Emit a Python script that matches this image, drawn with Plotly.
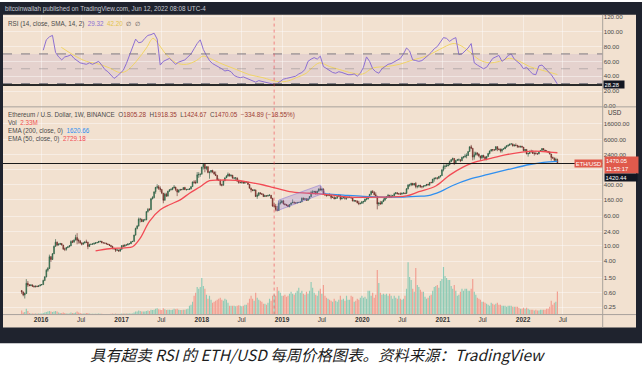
import plotly.graph_objects as go
import pandas as pd

W, H = 642, 369
def px(x): return x / W
def py(y): return 1 - y / H

FONT = "Liberation Sans, Arial, sans-serif"

# ---------------- weekly ETH/USD candles (week starting Monday) ----------------
first_open = 0.68
close_2015 = [0.62,0.52,0.57,1.05,0.95,0.92,0.95,0.88,0.85,0.88,0.86,0.90,0.95]
high_2015  = [0.70,0.64,0.60,1.35,1.20,1.00,1.00,0.98,0.92,0.92,0.92,0.93,0.98]
low_2015   = [0.55,0.48,0.42,0.55,0.85,0.88,0.88,0.85,0.82,0.82,0.84,0.84,0.88]

close_2016 = [0.97,1.25,1.55,2.30,2.55,5.20,4.40,6.20,9.70,12.5,10.5,11.0,11.5,10.5,8.30,8.20,9.00,9.40,10.0,13.0,12.5,14.3,16.5,14.0,13.5,11.8,11.0,11.9,12.6,12.5,9.60,10.9,11.1,11.1,11.6,12.0,12.2,13.0,13.2,12.0,11.9,11.8,11.2,10.9,10.3,9.70,8.40,8.40,7.70,7.80,7.30,8.10]
high_2016  = [1.00,1.30,1.60,2.50,2.80,5.90,5.40,6.50,10.2,15.0,13.0,11.8,12.0,11.8,10.6,9.00,9.30,10.0,10.5,14.0,14.2,14.6,19.5,21.5,15.5,14.3,12.5,12.5,13.2,14.5,12.8,11.3,11.3,11.8,12.3,12.5,12.7,13.5,13.5,13.4,12.2,12.1,11.9,11.4,11.1,10.4,10.0,9.00,8.60,8.40,7.90,8.40]
low_2016   = [0.93,0.95,1.20,1.50,2.10,2.50,3.80,4.30,6.10,9.50,9.80,10.2,10.7,10.3,7.80,7.30,7.50,8.80,9.20,9.90,11.8,12.3,13.8,11.0,11.5,11.5,10.3,10.8,11.6,11.8,8.20,9.40,10.6,10.8,10.9,11.2,11.8,12.1,12.5,11.8,11.7,11.5,11.0,10.5,10.0,9.20,8.20,8.00,6.90,7.50,7.10,7.00]

close_2017 = [10.2,9.7,10.6,10.5,11.3, 11.4,12.8,13.1,19.2, 28.5,33,50,50, 43,48,48,79, 90,88,170,183,260, 340,350,320,300, 240,155,225,200,270, 295,300,330,345, 300,255,285,300, 296,335,295,297,300, 310,355,470,460, 450,720,740,750]
high_2017  = [10.3,10.8,10.9,11.0,11.5, 11.6,13.2,13.5,19.5, 30,35,55,54, 51,50,51,80, 98,97,180,200,262, 345,410,390,360, 300,240,245,245,275, 300,320,340,390, 350,310,300,305, 305,340,350,310,310, 320,360,480,520, 520,850,850,780]
low_2017   = [8.0,9.5,9.6,10.2,10.4, 10.8,11.2,12.6,13.0, 18.5,27,32,41, 42,42,46,47, 74,83,88,165,175, 230,310,290,260, 225,130,155,190,195, 260,280,285,320, 270,200,245,280, 285,295,290,280,290, 290,300,350,420, 410,430,600,640]

close_2018 = [1150,1360,1050,1180,830, 860,940,860,750, 690,530,520,400, 385,500,600,670,750, 680,700,590,600, 600,500,455,455, 480,435,470,470,405, 320,295,280,290, 195,210,245,230, 225,195,205,200,210, 210,175,110,110, 90,84,130,135,150]
high_2018  = [1180,1420,1390,1200,1190, 870,960,980,880, 880,720,580,550, 420,520,620,710,830, 780,740,720,610, 630,610,540,490, 490,485,480,485,470, 410,335,300,305, 295,235,255,250, 240,230,215,210,215, 225,215,180,135, 125,110,150,160,160]
low_2018   = [740,990,840,950,790, 570,790,800,750, 680,520,500,370, 360,380,500,600,640, 650,640,580,550, 510,470,420,430, 420,430,430,450,400, 320,250,270,270, 190,170,200,225, 215,190,190,195,195, 200,170,105,100, 80,80,82,120,130]

close_2019 = [125,120,115,106, 120,133,137,132, 132,137,137,141, 175,165,170,155,170, 195,250,255,265, 230,270,310,290, 305,228,215,205,222, 210,185,185,170, 180,198,213,168,180, 185,175,180,184, 187,178,150,152, 150,133,127,130,144]
high_2019  = [160,130,125,120, 122,135,165,145, 137,140,140,145, 185,185,180,175,175, 200,275,285,275, 275,275,315,365, 320,320,240,230,230, 235,215,200,200, 185,205,225,215,185, 195,185,185,197, 197,190,180,160, 155,152,150,135,145]
low_2019   = [120,115,110,103, 102,118,131,128, 125,128,132,135, 140,160,157,150,150, 165,190,230,235, 220,225,265,280, 265,220,205,195,205, 200,165,180,165, 168,170,195,155,165, 175,160,160,178, 178,175,145,140, 140,130,116,122,125]

close_2020 = [145,167,168,190, 223,265,250,218, 200,125,132,125,144, 158,180,195,210, 188,200,205,230, 245,230,230,225,240, 240,236,310,390, 390,433,390,428,353, 365,384,355,352, 370,377,406,397, 453,447,560,575,600, 590,655,685,975]
high_2020  = [150,172,178,190, 228,280,288,270, 250,200,140,150,145, 175,185,198,228, 215,220,215,245, 255,250,240,250,245, 250,245,325,415, 420,445,440,435,470, 380,390,395,360, 380,385,415,420, 460,475,560,620,620, 615,665,695,1000]
low_2020   = [128,140,155,163, 178,210,240,210, 193,90,110,120,122, 140,150,168,182, 180,180,190,200, 225,225,215,220,220, 225,225,232,300, 350,365,380,380,320, 320,335,330,320, 335,355,365,375, 370,440,445,480,550, 540,560,610,680]

close_2021 = [1190,1230,1230,1310, 1610,1800,1930,1420, 1720,1790,1790,1690,2080, 2140,2240,2320,2950, 3910,3580,2100,2400,2710, 2510,2240,1980,2330, 2130,1900,2190,2610, 3010,3310,3240,3230,3940, 3400,3330,3060,3420, 3420,3850,4170,4290, 4610,4650,4090,4290,4190, 4040,3920,4040,3830]
high_2021  = [1350,1350,1460,1430, 1700,1870,2040,1950, 1750,1880,1940,1830,2150, 2200,2550,2640,2960, 3980,4370,3580,2900,2900, 2760,2620,2280,2400, 2410,2150,2210,2700, 3150,3370,3350,3380,4030, 4000,3550,3530,3480, 3620,3970,4200,4460, 4670,4870,4700,4550,4780, 4410,4210,4080,4130]
low_2021   = [890,1020,1150,1210, 1300,1550,1690,1300, 1410,1680,1650,1550,1670, 1930,2010,1950,2250, 2900,3390,1730,1800,2320, 2280,2080,1700,1900, 1950,1720,1720,2140, 2470,2960,2950,3060,3170, 3000,3170,2760,2750, 3280,3420,3670,3900, 4170,4470,3990,3990,4050, 3640,3650,3680,3700]

close_2022 = [3080,3330,2540,2600,3020, 2880,2620,2620,2550, 2520,2940,3140,3520, 3210,3060,2920,2830, 2520,2060,1970,1720,1805.28, 1470.05]
high_2022  = [3850,3400,3340,2700,3050, 3270,3200,2880,3000, 2700,2950,3150,3580, 3550,3230,3200,3030, 2960,2540,2160,2050,2020, 1918.35]
low_2022   = [2980,3000,2500,2160,2520, 2800,2550,2300,2500, 2450,2520,2850,3100, 3130,2950,2890,2750, 2480,1700,1940,1700,1700, 1424.67]

# weekly volume (millions)
vol_2015 = [0.4,0.2,0.25,0.6,0.35,0.15,0.12,0.1,0.1,0.1,0.1,0.1,0.12]
vol_2016 = [0.12,0.15,0.2,0.25, 0.3,0.35,0.3,0.25,0.3, 0.35,0.3,0.2,0.15, 0.15,0.2,0.15,0.12, 0.12,0.12,0.2,0.15,0.15, 0.2,0.3,0.2,0.15, 0.12,0.1,0.1,0.15, 0.15,0.1,0.08,0.08,0.08, 0.08,0.08,0.1,0.08, 0.08,0.07,0.07,0.07,0.07, 0.07,0.08,0.1,0.08, 0.1,0.08,0.08,0.08]
vol_2017 = [0.1,0.12,0.1,0.1,0.1, 0.1,0.12,0.12,0.2, 0.3,0.3,0.4,0.35, 0.3,0.3,0.3,0.35, 0.4,0.35,0.5,0.45,0.5, 0.6,0.65,0.55,0.5, 0.45,0.65,0.55,0.45,0.5, 0.5,0.45,0.5,0.6, 0.55,0.6,0.5,0.45, 0.45,0.5,0.5,0.55,0.6, 0.9,1.0,1.3,1.9, 2.2,2.8,2.6,2.8]
vol_2018 = [3.7,2.9,2.6,2.0,1.6, 1.9,1.5,1.2,1.3, 1.4,1.5,1.6,1.7, 1.5,1.4,1.6,1.5,1.2, 0.9,0.9,0.9,0.9, 0.85,0.9,0.95,0.9, 0.85,0.9,1.0,1.0,1.2, 1.6,1.9,1.6,1.4, 2.2,1.7,1.5,1.4, 1.3,1.1,1.1,1.0,1.2, 1.6,1.4,1.9,2.0, 1.9,2.8,2.4,2.2,1.9]
vol_2019 = [1.9,2.0,1.8,1.9, 2.1,2.3,2.1,2.0, 2.2,2.4,2.7,2.2, 2.4,2.1,2.0,2.3,2.1, 2.4,3.3,2.7,2.2, 2.0,1.9,2.4,2.6, 2.1,3.0,1.9,1.7,1.6, 1.5,1.4,1.3,1.6, 1.4,1.3,1.5,1.9,1.5, 1.6,1.4,1.9,1.5, 1.5,1.9,1.8,1.3, 1.4,1.6,1.5,1.7,1.9]
vol_2020 = [1.7,1.8,1.6,2.4, 2.4,1.9,2.2,1.7, 2.0,4.5,3.2,2.2,2.0, 2.1,2.0,2.1,1.9, 2.1,1.9,1.6,1.9, 1.7,1.6,1.9,1.6,1.5, 1.6,1.9,2.6,5.3, 3.8,3.5,2.6,2.3,4.7, 3.0,2.8,2.5,2.3, 2.3,1.8,1.6,1.7, 1.9,2.0,2.4,2.8,2.9, 3.0,2.7,3.4,3.6]
vol_2021 = [4.8,3.9,3.7,3.5, 3.5,2.9,2.6,3.0, 2.4,1.9,2.0,2.3,2.6, 2.4,2.6,2.6,2.4, 2.4,2.6,3.6,2.3,2.0, 1.7,1.6,1.5,1.3, 1.3,1.2,1.1,1.0, 0.9,1.2,1.1,1.0,1.1, 1.2,1.0,1.0,0.9, 0.9,0.9,0.8,0.9, 0.9,0.9,0.8,0.8,0.8, 0.8,0.7,0.6,0.6]
vol_2022 = [0.7,0.6,0.7,0.6,0.5, 0.5,0.5,0.4,0.5, 0.4,0.4,0.5,0.5, 0.5,0.5,0.6,0.6, 0.8,1.4,1.0,1.2,1.3, 2.33]

close = close_2015 + close_2016 + close_2017 + close_2018 + close_2019 + close_2020 + close_2021 + close_2022
high = high_2015 + high_2016 + high_2017 + high_2018 + high_2019 + high_2020 + high_2021 + high_2022
low = low_2015 + low_2016 + low_2017 + low_2018 + low_2019 + low_2020 + low_2021 + low_2022
volume = vol_2015 + vol_2016 + vol_2017 + vol_2018 + vol_2019 + vol_2020 + vol_2021 + vol_2022
open_ = [first_open] + close[:-1]
dates = pd.date_range("2015-10-05", periods=len(close), freq="7D")

# ---------------- RSI (biweekly readings from week 14) ----------------
rsi_vals = [75,89,93,95,72,66,62,66,67,69, 64,61,58,57,56,58,56,58,60,55,
            49,46,42,37,40,44,48,57,68,77, 90,85,86,91,95,96,98,90,55,60,
            62,64,60,56,59,61,62,66,70,77, 84,89,76,68,61,57,55,52,50,47,
            48,46,41,39,38,39,37,36,34,32, 34,33,32,32,31,29,30,33,36,37,
            38,39,40,43,45,49,60,63,65,63, 67,53,50,47,45,44,46,45,43,42,
            42,43,40,44,52,66,60,50,46,44, 50,53,56,57,59,61,64,70,78,74,
            62,61,60,61,64,68,72,77,80,86, 92,91,87,90,92,69,70,74,78,84,
            58,55,52,50,52,58,64,66,68,60, 63,68,70,63,60,56,50,52,47,43,
            42,54,55,51,47,42,36,29.32]
rsi_dates = list(dates[14::2][:len(rsi_vals)])

sma_dates = ["2016-04-02","2016-05-25","2016-07-25","2016-09-23","2016-11-08","2016-12-23","2017-01-23","2017-03-09",
             "2017-04-24","2017-05-24","2017-06-16","2017-07-24","2017-09-07","2017-10-23","2017-12-07","2018-01-06",
             "2018-02-06","2018-04-07","2018-06-07","2018-08-06","2018-10-06","2018-12-06","2019-01-20","2019-03-07",
             "2019-04-21","2019-05-20","2019-06-21","2019-08-05","2019-09-19","2019-11-19","2020-01-03","2020-02-18",
             "2020-04-19","2020-06-18","2020-08-18","2020-10-18","2020-12-17","2021-02-16","2021-03-18","2021-05-02",
             "2021-06-17","2021-08-01","2021-09-16","2021-10-31","2021-12-16","2022-01-30","2022-03-17","2022-05-16","2022-06-06"]
sma_vals = [79,69,60,56,51,45,47,60, 78,91,84,69,58,56,61,67, 64,56,49,42,38,33,33,38,
            44,52,58,53,49,44,43,51, 53,56,62,67,76,84,82,73, 62,58,60,64,60,53,49,44,42.2]

# ---------------- EMAs ----------------
ema50_dates = ["2016-09-05","2016-11-07","2017-01-16","2017-02-20","2017-03-27","2017-05-08","2017-06-26","2017-08-07",
               "2017-09-25","2017-11-06","2017-12-25","2018-02-05","2018-03-26","2018-05-07","2018-06-25","2018-08-06",
               "2018-10-08","2018-11-19","2019-02-04","2019-05-06","2019-08-05","2019-11-04","2020-03-16","2020-07-20",
               "2020-09-14","2020-11-30","2021-02-01","2021-04-05","2021-05-17","2021-08-02","2021-10-18","2021-12-27",
               "2022-02-28","2022-05-02","2022-06-06"]
ema50_vals = [7.4,8.4,8.9,9.5,16,44,88,119, 160,238,353,505,526,526,505,459,
              391,341,262,238,215,188,188,203, 262,368,709,1164,1476,1918,2434,2843, 3020,2843,2729.18]
ema200_dates = ["2019-07-15","2019-10-07","2020-01-06","2020-04-06","2020-07-06","2020-09-28","2020-10-26","2020-12-21",
                "2021-02-15","2021-05-03","2021-07-26","2021-10-25","2022-01-31","2022-04-04","2022-06-06"]
ema200_vals = [230,212,196,188,190,200,205,262, 380,558,740,995,1343,1530,1620.66]

# parallel channel drawing
chan_dates = ["2018-12-10","2018-12-17","2019-06-24","2019-07-15","2018-12-10"]
chan_vals = [83,158,391,245,83]

hline_price = 1420.44
rsi_hline = 28.28
vline_date = "2018-11-26"

price_ticks = [0.25,0.6,1.5,4,10,24,60,160,400,1000,2400,6000,16000]
price_ticktext = ["0.25","0.60","1.50","4.00","10.00","24.00","60.00","160.00","400.00","","2400.00","6000.00","16000.00"]
rsi_ticks = [0,20,40,60,80,100,120]
rsi_ticktext = ["0.00","20.00","40.00","60.00","80.00","100.00","120.00"]
date_ticks = ["2016-01-01","2016-07-01","2017-01-01","2017-07-01","2018-01-01","2018-07-01","2019-01-01","2019-07-01",
              "2020-01-01","2020-07-01","2021-01-01","2021-07-01","2022-01-01","2022-07-01"]
date_ticktext = ["<b>2016</b>","Jul","<b>2017</b>","Jul","<b>2018</b>","Jul","<b>2019</b>","Jul",
                 "<b>2020</b>","Jul","<b>2021</b>","Jul","<b>2022</b>","Jul"]

GRID = "rgba(255,255,255,0.42)"
fig = go.Figure()

vol_colors = ["#8fcbb6" if c >= o else "#f29d90" for o, c in zip(open_, close)]
fig.add_trace(go.Bar(x=dates, y=volume, marker=dict(color=vol_colors, line=dict(width=0)),
                     xaxis="x", yaxis="y3", hoverinfo="skip"))

fig.add_trace(go.Scatter(x=ema200_dates, y=ema200_vals, mode="lines", line=dict(color="#2f8ff0", width=1.3, shape="spline"),
                         xaxis="x", yaxis="y", hoverinfo="skip"))
fig.add_trace(go.Scatter(x=ema50_dates, y=ema50_vals, mode="lines", line=dict(color="#f24b55", width=1.3, shape="spline"),
                         xaxis="x", yaxis="y", hoverinfo="skip"))

fig.add_trace(go.Candlestick(x=dates, open=open_, high=high, low=low, close=close,
                             increasing=dict(line=dict(color="#24503a", width=0.6), fillcolor="#3f9a62"),
                             decreasing=dict(line=dict(color="#5e2420", width=0.6), fillcolor="#c4473a"),
                             whiskerwidth=0, xaxis="x", yaxis="y", hoverinfo="skip"))

fig.add_trace(go.Scatter(x=chan_dates, y=chan_vals, mode="lines", fill="toself",
                         fillcolor="rgba(130,110,215,0.25)", line=dict(color="rgba(130,110,215,0.5)", width=1),
                         xaxis="x", yaxis="y", hoverinfo="skip"))

fig.add_trace(go.Scatter(x=["2015-07-12", "2022-12-29"], y=[hline_price, hline_price], mode="lines",
                         line=dict(color="#1a1a1a", width=1.1), xaxis="x", yaxis="y", hoverinfo="skip"))

# RSI
fig.add_trace(go.Scatter(x=sma_dates, y=sma_vals, mode="lines", line=dict(color="#f0d466", width=1, shape="spline"),
                         xaxis="x", yaxis="y2", hoverinfo="skip"))
fig.add_trace(go.Scatter(x=rsi_dates, y=rsi_vals, mode="lines", line=dict(color="#8c6fd2", width=1),
                         xaxis="x", yaxis="y2", hoverinfo="skip"))

shapes = [
    dict(type="rect", xref="paper", yref="paper", x0=0, x1=1, y0=py(345), y1=1, fillcolor="#1f232e", line=dict(width=0), layer="below"),
    dict(type="rect", xref="paper", yref="paper", x0=px(3), x1=px(636), y0=py(329), y1=py(13), fillcolor="#f2e1d0", line=dict(width=0), layer="below"),
    dict(type="rect", xref="x domain", yref="y2", x0=0, x1=1, y0=30, y1=70, fillcolor="rgba(126,87,194,0.11)", line=dict(width=0), layer="below"),
    dict(type="line", xref="x domain", yref="y2", x0=0, x1=1, y0=70, y1=70, line=dict(color="#7d7a80", width=1, dash="dash")),
    dict(type="line", xref="x domain", yref="y2", x0=0, x1=1, y0=50, y1=50, line=dict(color="rgba(125,122,128,0.45)", width=1, dash="dash")),
    dict(type="line", xref="x domain", yref="y2", x0=0, x1=1, y0=30, y1=30, line=dict(color="#7d7a80", width=1, dash="dash")),
    dict(type="line", xref="x domain", yref="y2", x0=0, x1=1, y0=rsi_hline, y1=rsi_hline, line=dict(color="#2a2a2a", width=2)),
    dict(type="line", xref="x", yref="paper", x0=vline_date, x1=vline_date, y0=py(316), y1=py(13),
         line=dict(color="rgba(242,54,69,0.55)", width=1, dash="dot")),
    dict(type="line", xref="paper", yref="paper", x0=px(3), x1=px(636), y0=py(106), y1=py(106), line=dict(color="#a8a29c", width=1)),
    dict(type="line", xref="paper", yref="paper", x0=px(3), x1=px(636), y0=py(316), y1=py(316), line=dict(color="#a8a29c", width=1)),
    dict(type="line", xref="paper", yref="paper", x0=px(602.7), x1=px(602.7), y0=py(329), y1=py(13), line=dict(color="#a8a29c", width=1)),
]

def ann(text, x, y, size=6.5, color="#4a4a4a", xanchor="left", yanchor="middle", family=FONT, **kw):
    return dict(text=text, x=px(x), y=py(y), xref="paper", yref="paper", showarrow=False,
                xanchor=xanchor, yanchor=yanchor, font=dict(size=size, color=color, family=family), **kw)

red = "#9c3b32"
annotations = [
    ann("bitcoinwallah published on TradingView.com, Jun 12, 2022 08:08 UTC-4", 3, 7, size=6.3, color="#c8cbd3"),
    ann("RSI (14, close, SMA, 14, 2)  <span style='color:#8c6fd2'>29.32</span>  <span style='color:#e3c34a'>42.20</span>  ∅  ∅", 6, 22, size=6.3),
    ann("Ethereum / U.S. Dollar, 1W, BINANCE  O<span style='color:%s'>1805.28</span>  H<span style='color:%s'>1918.35</span>  "
        "L<span style='color:%s'>1424.67</span>  C<span style='color:%s'>1470.05</span>  <span style='color:%s'>−334.89 (−18.55%%)</span>"
        % (red, red, red, red, red), 6, 114, size=6.3),
    ann("Vol  <span style='color:#ef5350'>2.33M</span>", 6, 121.5, size=6.3),
    ann("EMA (200, close, 0)  <span style='color:#2f8ff0'>1620.66</span>", 6, 130, size=6.3),
    ann("EMA (50, close, 0)  <span style='color:#f24b55'>2729.18</span>", 6, 138.3, size=6.3),
    ann("USD", 606, 112, size=6.3, color="#3a3a3a"),
    ann("ETH/USD", 588.3, 163.6, size=5.8, color="white", xanchor="center", bgcolor="#e05a4c", borderpad=0.5, width=26),
    ann("1470.05<br>11:53:17", 603.5, 165, size=5.8, color="white", bgcolor="#e05a4c", borderpad=1, width=31, align="left"),
    ann("1420.44", 603.5, 177.8, size=5.8, color="white", bgcolor="#131722", borderpad=0.5, width=31, align="left"),
    ann("28.28", 603, 83.3, size=5.8, color="white", bgcolor="#131722", borderpad=0.5, width=19, align="left"),
    ann("<i>具有超卖 RSI 的 ETH/USD 每周价格图表。资料来源：TradingView</i>", 318, 356, size=15.4, color="#1c1c1c",
        xanchor="center", family="Noto Sans CJK SC, Noto Sans, sans-serif"),
]

fig.update_layout(
    width=W, height=H, margin=dict(l=0, r=0, t=0, b=0),
    paper_bgcolor="white", plot_bgcolor="rgba(0,0,0,0)", showlegend=False, hovermode=False,
    bargap=0.25,
    xaxis=dict(domain=[px(3), px(602.7)], range=["2015-07-12", "2022-12-29"], type="date", anchor="y",
               tickvals=date_ticks, ticktext=date_ticktext, showgrid=True, gridcolor=GRID, gridwidth=1,
               zeroline=False, showline=False, ticks="", tickfont=dict(size=6.5, color="#333333", family=FONT),
               rangeslider=dict(visible=False), fixedrange=True),
    yaxis=dict(domain=[py(316), py(106)], type="log", range=[-0.797, 4.636], side="right", anchor="x",
               tickvals=price_ticks, ticktext=price_ticktext, showgrid=True, gridcolor=GRID, gridwidth=1,
               zeroline=False, showline=False, ticks="", tickfont=dict(size=6.2, color="#4a4a4a", family=FONT)),
    yaxis2=dict(domain=[py(106), py(13)], range=[-1.33, 122.67], side="right", anchor="x",
                tickvals=rsi_ticks, ticktext=rsi_ticktext, showgrid=True, gridcolor=GRID, gridwidth=1,
                zeroline=False, showline=False, ticks="", tickfont=dict(size=6.2, color="#4a4a4a", family=FONT)),
    yaxis3=dict(overlaying="y", range=[0, 21], visible=False, anchor="x", showgrid=False),
    shapes=shapes, annotations=annotations,
)

fig.write_html("out.html", config={"displayModeBar": False, "staticPlot": True},
               post_script="document.body.style.margin='0px';document.body.style.overflow='hidden';")
